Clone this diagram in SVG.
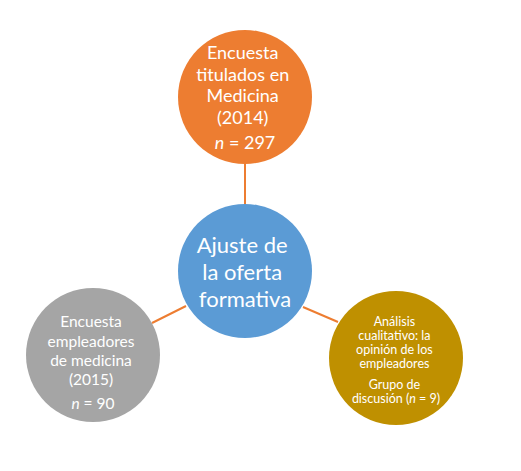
<svg xmlns="http://www.w3.org/2000/svg" width="521" height="471" viewBox="0 0 521 471">
<style>
.t{font-family:Lato,"Open Sans","Liberation Sans",sans-serif;fill:#fff;text-anchor:middle}
.c{stroke:none}
.ln{stroke:#ED7D31;stroke-width:2;fill:none}
</style>
<rect width="521" height="471" fill="#fff"/>
<g id="connectors">
<line class="ln" x1="245" y1="163" x2="245" y2="205"/>
<line class="ln" x1="186" y1="306" x2="152" y2="323"/>
<line class="ln" x1="303" y1="307" x2="338" y2="322"/>
</g>
<g id="node-top">
<circle class="c" cx="245" cy="97" r="67" fill="#ED7D31"/>
<text class="t" font-size="18">
<tspan x="245" y="59">Encuesta</tspan>
<tspan x="245" y="81">titulados en</tspan>
<tspan x="245" y="102">Medicina</tspan>
<tspan x="245" y="124">(2014)</tspan>
<tspan x="245" y="149"><tspan font-style="italic">n</tspan> = 297</tspan>
</text>
</g>
<g id="node-center">
<circle class="c" cx="245" cy="271" r="67" fill="#5B9BD5"/>
<text class="t" font-size="22">
<tspan x="245" y="253">Ajuste de</tspan>
<tspan x="245" y="280">la oferta</tspan>
<tspan x="245" y="307">formativa</tspan>
</text>
</g>
<g id="node-left">
<circle class="c" cx="93" cy="355" r="67" fill="#A5A5A5"/>
<text class="t" font-size="15.5">
<tspan x="93" y="327">Encuesta</tspan>
<tspan x="93" y="347">empleadores</tspan>
<tspan x="93" y="366">de medicina</tspan>
<tspan x="93" y="385">(2015)</tspan>
<tspan x="93" y="409"><tspan font-style="italic">n</tspan> = 90</tspan>
</text>
</g>
<g id="node-right">
<circle class="c" cx="396" cy="358" r="67" fill="#BF9000"/>
<text class="t" font-size="12.5">
<tspan x="396" y="326">Análisis</tspan>
<tspan x="396" y="340">cualitativo: la</tspan>
<tspan x="396" y="354">opinión de los</tspan>
<tspan x="396" y="368">empleadores</tspan>
<tspan x="396" y="389">Grupo de</tspan>
<tspan x="396" y="403">discusión (<tspan font-style="italic">n</tspan> = 9)</tspan>
</text>
</g>
</svg>
